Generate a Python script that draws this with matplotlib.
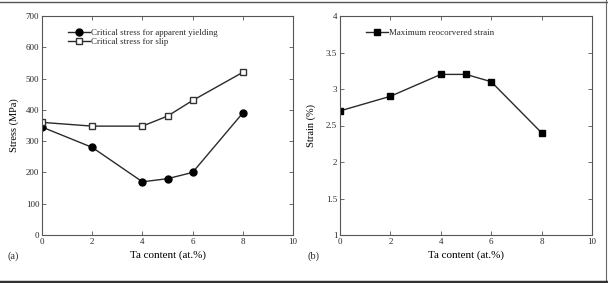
import matplotlib
matplotlib.use('Agg')
from matplotlib import pyplot as plt

# data
ta = [0, 2, 4, 5, 6, 8]
yield_stress = [345, 280, 170, 180, 200, 390]
slip_stress = [360, 348, 348, 380, 430, 520]
rec_strain = [2.7, 2.9, 3.2, 3.2, 3.1, 2.4]

plt.rcParams['font.family'] = ['Liberation Serif', 'DejaVu Serif']
ink = '#2a2a2a'
plt.rcParams['text.color'] = ink
plt.rcParams['axes.edgecolor'] = '#555555'
plt.rcParams['xtick.color'] = '#555555'
plt.rcParams['ytick.color'] = '#555555'
plt.rcParams['xtick.labelcolor'] = ink
plt.rcParams['ytick.labelcolor'] = ink

W, H = 608, 283
fig = plt.figure(figsize=(W / 100, H / 100), dpi=100)

def box(l, t, r, b):
    return [l / W, 1 - b / H, (r - l) / W, (b - t) / H]

axa = fig.add_axes(box(42, 16, 293, 235))
axb = fig.add_axes(box(340, 16, 592, 235))

axa.plot(ta, yield_stress, '-o', color=ink, lw=1.0, ms=5, mfc='black', mec='black',
         label='Critical stress for apparent yielding')
axa.plot(ta, slip_stress, '-s', color=ink, lw=1.0, ms=5, mfc='white', mec='#333333',
         label='Critical stress for slip')
axa.set_xlim(0, 10)
axa.set_ylim(0, 700)
axa.set_xticks(range(0, 11, 2))
axa.set_yticks(range(0, 701, 100))
axa.set_ylabel('Stress (MPa)', fontsize=7.5, labelpad=5)
axa.set_xlabel('Ta content (at.%)', fontsize=8, labelpad=3)
axa.legend(loc='upper left', bbox_to_anchor=(0.08, 0.97), frameon=False, fontsize=6.4,
           handlelength=2.4, handletextpad=0.2, labelspacing=0.05, borderpad=0.2)

axb.plot(ta, rec_strain, '-s', color=ink, lw=1.0, ms=4.2, mfc='black', mec='black',
         label='Maximum reocorvered strain')
axb.set_xlim(0, 10)
axb.set_ylim(1, 4)
axb.set_xticks(range(0, 11, 2))
axb.set_yticks([1, 1.5, 2, 2.5, 3, 3.5, 4])
axb.set_yticklabels(['1', '1.5', '2', '2.5', '3', '3.5', '4'])
axb.set_ylabel('Strain (%)', fontsize=7.5, labelpad=7)
axb.set_xlabel('Ta content (at.%)', fontsize=8, labelpad=3)
axb.legend(loc='upper left', bbox_to_anchor=(0.08, 0.97), frameon=False, fontsize=6.4,
           handlelength=2.4, handletextpad=0.2, borderpad=0.2)

for ax in (axa, axb):
    ax.tick_params(direction='in', top=True, right=True, labelsize=6.5, length=3,
                   width=0.6, pad=2)
    for s in ax.spines.values():
        s.set_linewidth(0.8)

fig.text(8 / W, 1 - 256 / H, '(a)', fontsize=7.5, va='center')
fig.text(308 / W, 1 - 256 / H, '(b)', fontsize=7.5, va='center')

# outer frame of the picture: top, right and a heavier bottom rule
fr = fig.transFigure
fig.add_artist(plt.Line2D([0, 1], [1 - 1.5 / H, 1 - 1.5 / H], transform=fr,
                          color='#555555', lw=1.0))
fig.add_artist(plt.Line2D([1 - 2 / W, 1 - 2 / W], [0, 1], transform=fr,
                          color='#666666', lw=0.8))
fig.add_artist(plt.Line2D([0, 1], [1.5 / H, 1.5 / H], transform=fr,
                          color='#333333', lw=2.5))

fig.savefig('out.png', dpi=100)
